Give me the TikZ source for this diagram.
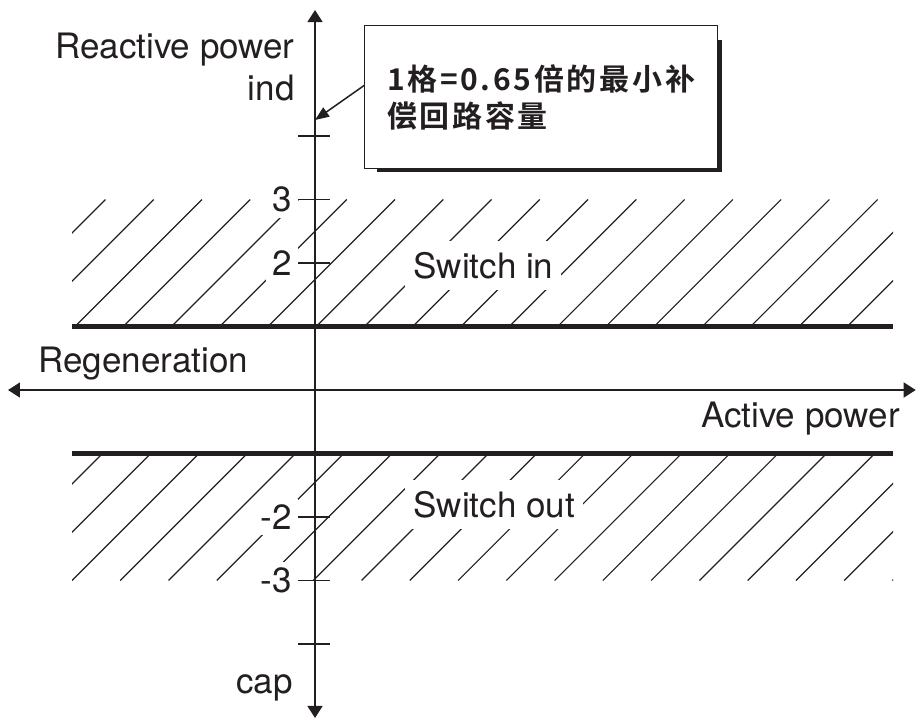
\documentclass[tikz,border=0pt]{standalone}
\usepackage{fontspec}
\setmainfont{TeX Gyre Heros}
\newfontfamily\cjk{Noto Sans CJK SC}[BoldFont={Noto Sans CJK SC Bold}, LetterSpace=9]
\usetikzlibrary{arrows.meta,backgrounds}
\definecolor{ink}{RGB}{35,31,32}

\begin{document}
\begin{tikzpicture}[x=31.75pt, y=31.75pt,
        every node/.style={text=ink},
        lbl/.style ={font=\fontsize{17.5}{21}\selectfont, inner sep=0pt},
        val/.style ={font=\fontsize{17.5}{21}\selectfont, fill=white, inner sep=3pt, anchor=east},
        zone/.style={font=\fontsize{17.5}{21}\selectfont, fill=white, inner xsep=4pt,
                     inner ysep=5.5pt, anchor=base west},
        note/.style={draw=ink, line width=0.5pt, fill=white, anchor=north west,
                     minimum width=176.5pt, minimum height=71.5pt, inner sep=0pt, align=left,
                     font=\cjk\bfseries\fontsize{15}{18.5}\selectfont},
        axis/.style={ink, line width=0.75pt,
                     {Triangle[width=7.5pt,length=6pt]}-{Triangle[width=7.5pt,length=6pt]}},
        hatch/.style={ink, line width=0.6pt},
        limit/.style={ink, line width=2.5pt}]

    \useasboundingbox (-4.961,-5.228) rectangle (9.480,6.142);

    %--- Hatched zones ---
    \begin{scope}
        \clip (-3.827,1) rectangle (9.102,3);
        \foreach \k in {-3,...,17}
            \draw[hatch] (-3.78+0.76*\k,1) -- ++(2,2);
    \end{scope}
    \begin{scope}
        \clip (-3.827,-3) rectangle (9.102,-1);
        \foreach \k in {-3,...,17}
            \draw[hatch] (-3.827+0.76*\k,-3) -- ++(2,2);
    \end{scope}

    %--- Limit lines ---
    \coordinate (inL)  at (-3.827, 1);
    \coordinate (inR)  at (9.102, 1);
    \coordinate (outL) at (-3.827,-1);
    \coordinate (outR) at (9.102,-1);
    \draw[limit] (inL) -- (inR);
    \draw[limit] (outL) -- (outR);

    %--- Axes ---
    \coordinate (top)   at (0, 5.984);
    \coordinate (bot)   at (0,-5.165);
    \coordinate (left)  at (-4.835,0);
    \coordinate (right) at (9.46,0);
    \draw[axis] (bot) -- (top);
    \draw[axis] (left) -- (right);

    %--- Ticks ---
    \foreach \y in {2,3,4,-2,-3,-4}
        \draw[ink, line width=0.75pt] (-0.268,\y) -- (0.236,\y);
    \foreach \y/\n in {3/p3, 2/p2, -2/m2, -3/m3}
        \node[val] (\n) at (-0.268,\y) {\y};

    %--- Labels ---
    \node[lbl, anchor=base east] (react) at (-0.315, 5.228) {Reactive power};
    \node[lbl, anchor=base east] (ind)   at (-0.315, 4.567) {ind};
    \node[lbl, anchor=base east] (cap)   at (-0.346,-4.772) {cap};
    \node[lbl, anchor=base west] (regen) at (-4.362, 0.268) {Regeneration};
    \node[lbl, anchor=base east] (active) at (9.213,-0.598) {Active power};
    \node[zone] (swin)  at (1.417, 1.764) {Switch in};
    \node[zone] (swout) at (1.417,-2.0) {Switch out};

    %--- Note ---
    \node[note] (note) at (0.772, 5.748) {1格=0.65倍的最小补\\偿回路容量};
    \begin{scope}[on background layer]
        \fill[ink] ([shift={(6.5pt,-1.5pt)}]note.south west)
            rectangle ([shift={(2pt,-7.5pt)}]note.north east);
    \end{scope}
    \coordinate (ptr) at (0, 4.252);
    \draw[ink, line width=0.75pt, -{Triangle[width=5.5pt,length=7pt]}]
        ([yshift=5.75pt]note.west) -- (ptr);

\end{tikzpicture}
\end{document}
